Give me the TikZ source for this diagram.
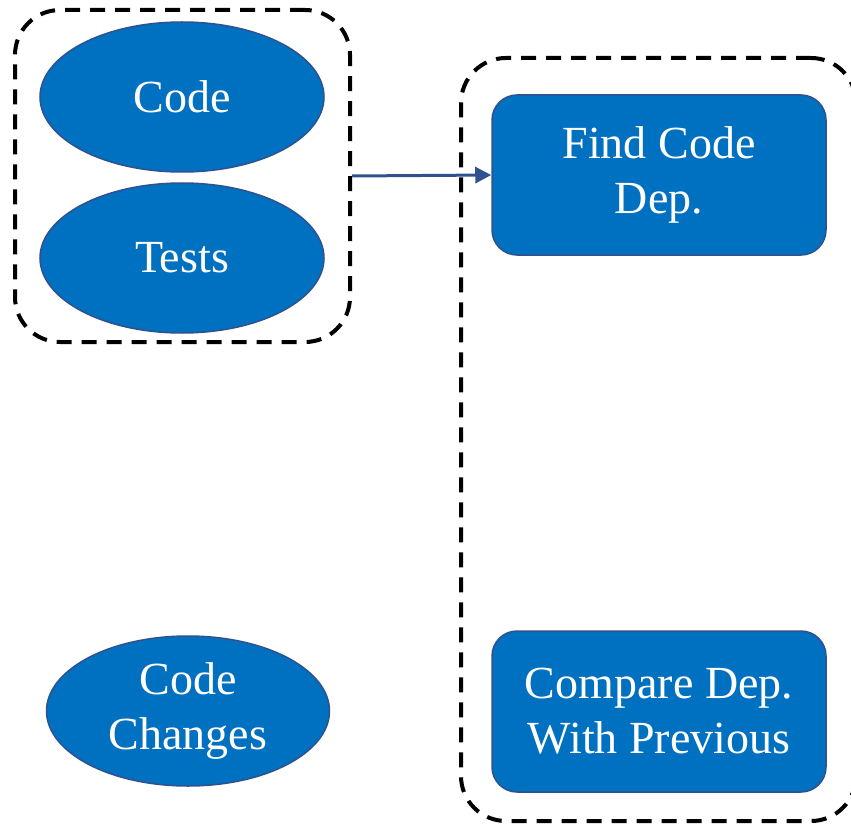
\documentclass[tikz,border=0pt]{standalone}
\usepackage{fontspec}
\setmainfont{Liberation Serif}
\usepackage{tikz}
\usetikzlibrary{shapes.geometric,arrows.meta}
\definecolor{boxblue}{HTML}{0070C0}
\definecolor{edgeblue}{HTML}{2F528F}
\tikzset{
	group/.style={draw=black, line width=4pt, dash pattern=on 15pt off 10pt, rounded corners=45pt},
	datanode/.style={ellipse, fill=boxblue, draw=edgeblue, line width=1.5pt, inner sep=0pt, minimum width=284pt, minimum height=150pt, text=white, align=center, font=\fontsize{46}{55}\selectfont},
	stepnode/.style={rectangle, rounded corners=25pt, fill=boxblue, draw=edgeblue, line width=1.5pt, inner sep=0pt, minimum width=334pt, minimum height=160pt, text=white, align=center, font=\fontsize{46}{55}\selectfont},
	flow/.style={draw=edgeblue, line width=3pt, -{Triangle[length=16pt,width=16pt]}}
}

\begin{document}
\begin{tikzpicture}[x=1pt, y=-1pt]
			%%%%% START %%%%%
			\useasboundingbox (0, 0) rectangle (851, 829);
			
			\node[group, minimum width=335pt, minimum height=332pt] (inputs) at (182.5, 176) {};
			\node[group, minimum width=395pt, minimum height=763pt] (analysis) at (658.5, 439.5) {};
			
			\node[datanode] (code) at (182, 97) {Code};
			\node[datanode] (tests) at (182, 258) {Tests};
			\node[datanode, minimum width=283pt] (changes) at (188, 711) {Code\\Changes};
			
			\node[stepnode] (find) at (659, 175) {Find Code\\Dep.};
			\node[stepnode, minimum height=161pt] (compare) at (659, 711.5) {Compare Dep.\\With Previous};
			
			\draw[flow] (inputs.east) -- (find.west);
			
			%%%%% END %%%%%
		\end{tikzpicture}
\end{document}
